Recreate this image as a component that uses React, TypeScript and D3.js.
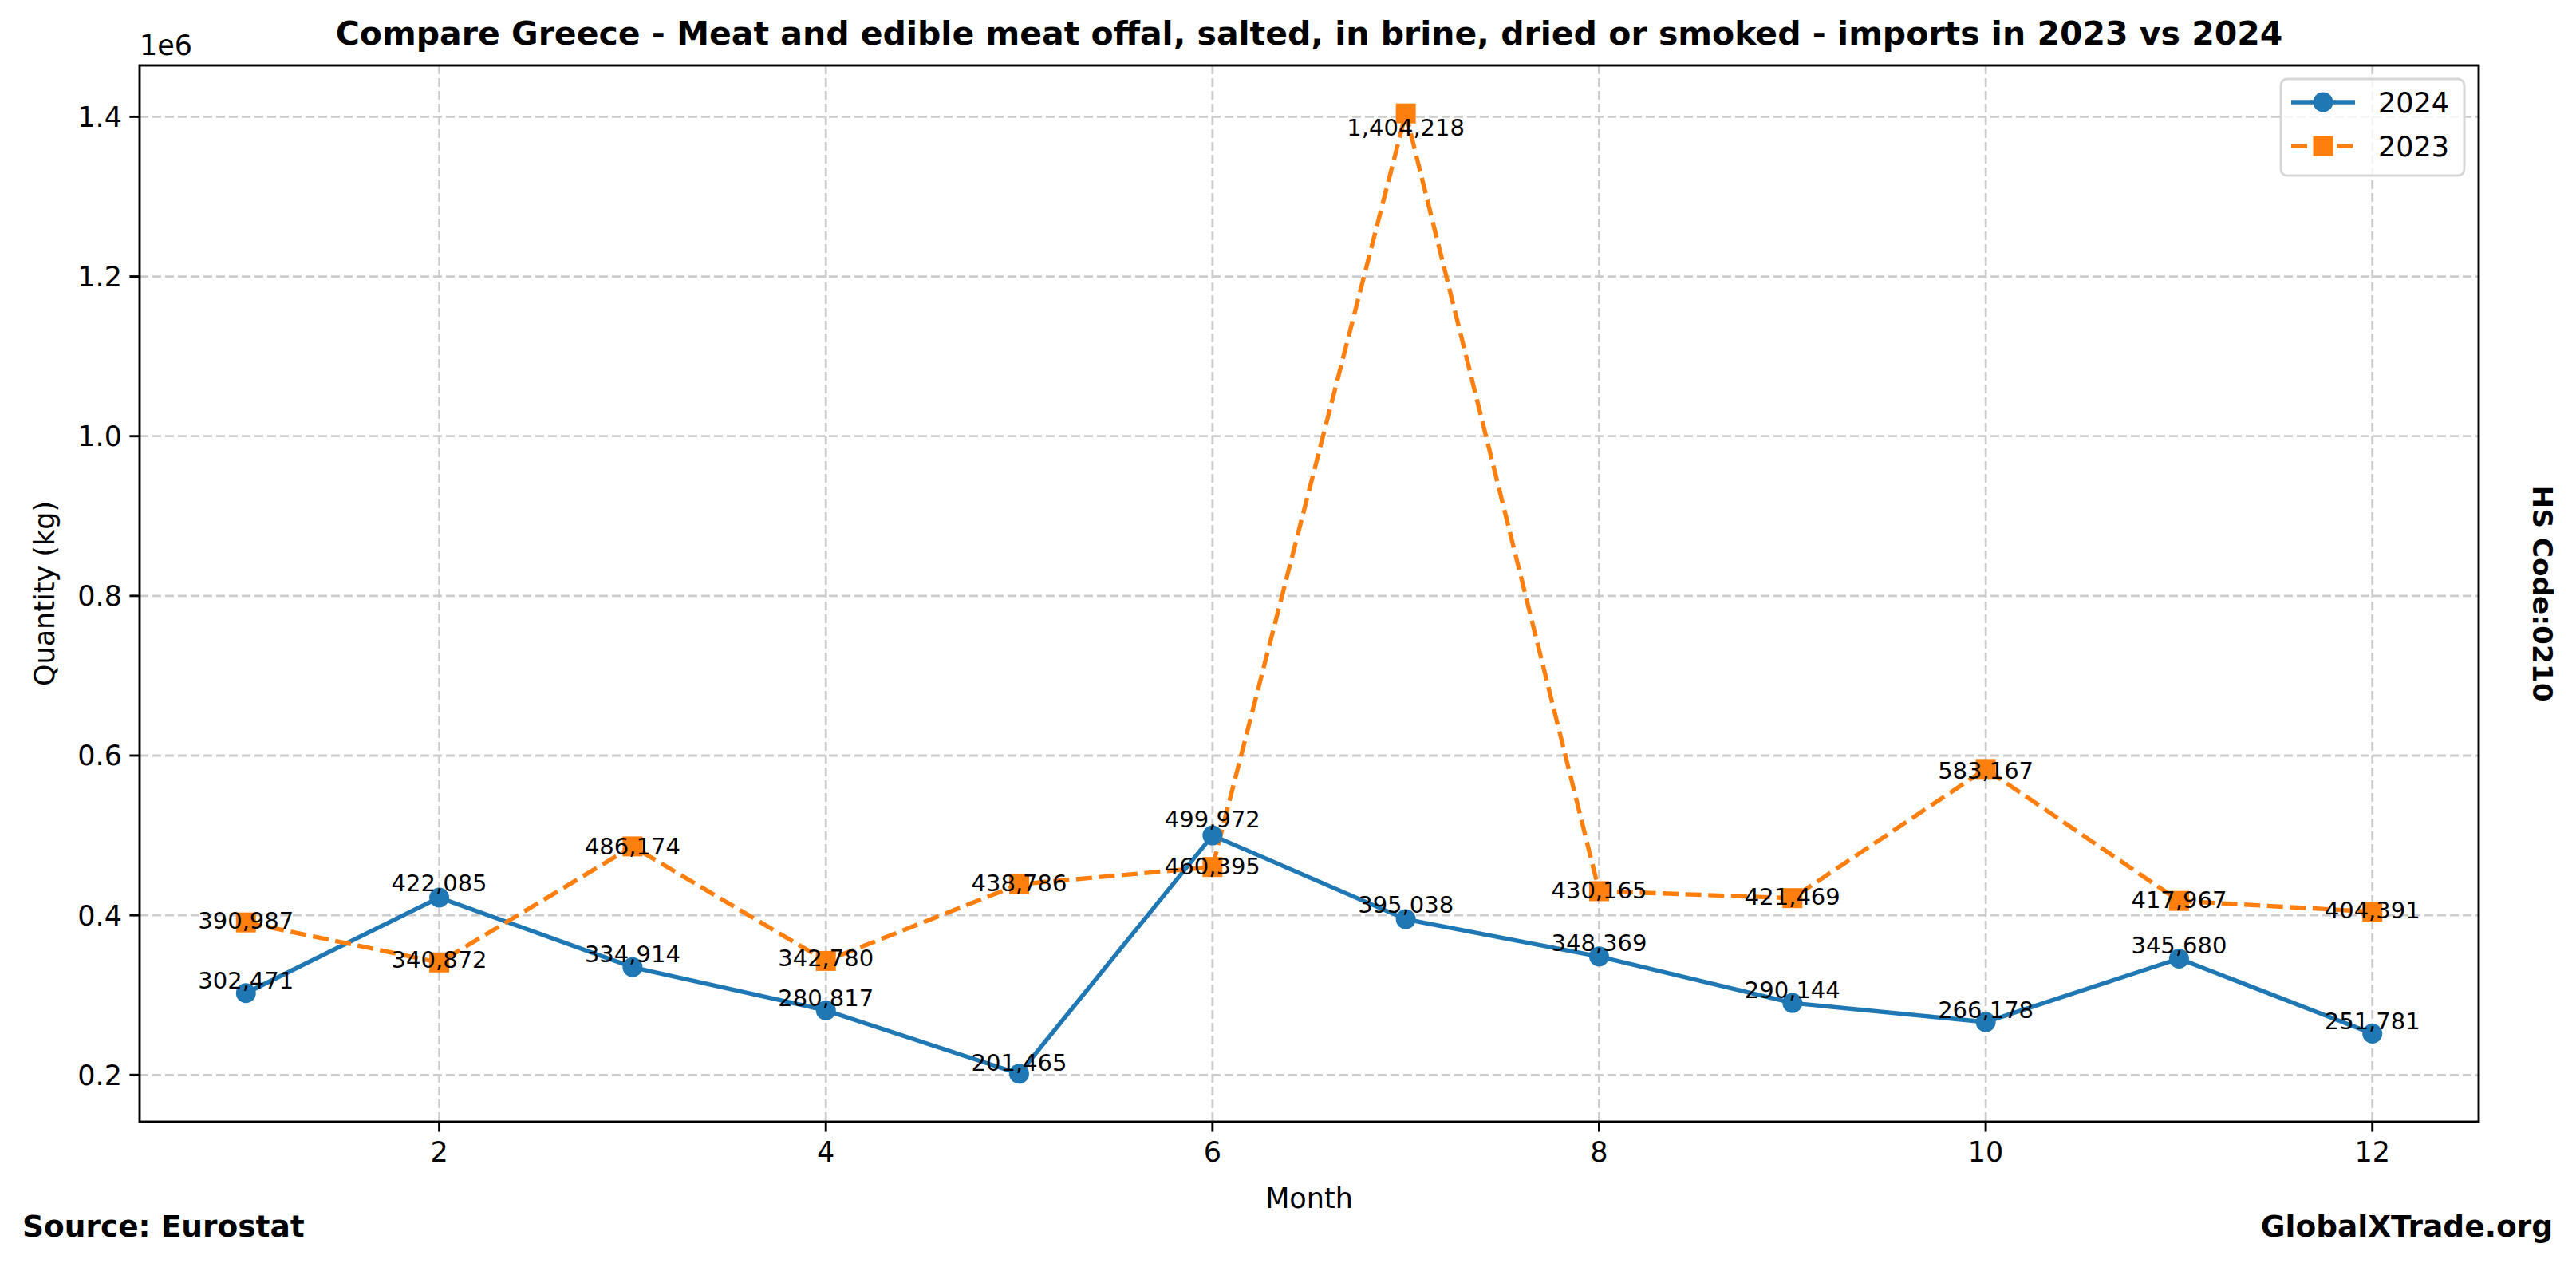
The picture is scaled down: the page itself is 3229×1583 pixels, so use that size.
import React, { useEffect } from "react";
import * as d3 from "d3";

const months = [1, 2, 3, 4, 5, 6, 7, 8, 9, 10, 11, 12];
const values2024 = [302471, 422085, 334914, 280817, 201465, 499972, 395038, 348369, 290144, 266178, 345680, 251781];
const values2023 = [390987, 340872, 486174, 342780, 438786, 460395, 1404218, 430165, 421469, 583167, 417967, 404391];
const xTickValues = [2, 4, 6, 8, 10, 12];
const yTickValues = [200000, 400000, 600000, 800000, 1000000, 1200000, 1400000];
const yTickLabels = ["0.2", "0.4", "0.6", "0.8", "1.0", "1.2", "1.4"];
const seriesNames = ["2024", "2023"];
const titleText = "Compare Greece - Meat and edible meat offal, salted, in brine, dried or smoked - imports in 2023 vs 2024";

const W = 3229;
const H = 1583;
const left = 175, right = 3107, top = 82, bottom = 1406;
const FONT = "DejaVu Sans, sans-serif";
const BLUE = "#1f77b4";
const ORANGE = "#ff7f0e";

export default function App() {
  useEffect(() => {
    document.body.style.margin = "0";
  }, []);

  const allVals = [...values2024, ...values2023];
  const minV = d3.min(allVals)!;
  const maxV = d3.max(allVals)!;
  const padY = (maxV - minV) * 0.05;
  const x = d3.scaleLinear().domain([1 - 0.55, 12 + 0.55]).range([left, right]);
  const y = d3.scaleLinear().domain([minV - padY, maxV + padY]).range([bottom, top]);

  const line = d3
    .line<number>()
    .x((_, i) => x(months[i]))
    .y((d) => y(d));

  const fmt = d3.format(",");
  const lw = 5.4;

  return (
    <svg
      width={W}
      height={H}
      style={{ position: "fixed", left: 0, top: 0, background: "#fff" }}
      fontFamily={FONT}
    >
      <rect x={0} y={0} width={W} height={H} fill="#fff" />
      {/* grid */}
      <g stroke="#cccccc" strokeWidth={2.8} strokeDasharray="11,5">
        {xTickValues.map((t) => (
          <line key={"gx" + t} x1={x(t)} x2={x(t)} y1={top} y2={bottom} />
        ))}
        {yTickValues.map((t) => (
          <line key={"gy" + t} x1={left} x2={right} y1={y(t)} y2={y(t)} />
        ))}
      </g>

      {/* lines */}
      <path d={line(values2024)!} fill="none" stroke={BLUE} strokeWidth={lw} strokeLinejoin="round" />
      <path
        d={line(values2023)!}
        fill="none"
        stroke={ORANGE}
        strokeWidth={lw}
        strokeDasharray="20,8.6"
        strokeLinejoin="round"
      />
      {values2024.map((v, i) => (
        <circle key={"c" + i} cx={x(months[i])} cy={y(v)} r={12.5} fill={BLUE} />
      ))}
      {values2023.map((v, i) => (
        <rect key={"s" + i} x={x(months[i]) - 12.5} y={y(v) - 12.5} width={25} height={25} fill={ORANGE} />
      ))}

      {/* value labels */}
      <g fontSize={29} textAnchor="middle" fill="#000">
        {values2024.map((v, i) => (
          <text key={"l4" + i} x={x(months[i])} y={y(v * 1.02)}>
            {fmt(v)}
          </text>
        ))}
        {values2023.map((v, i) => (
          <text key={"l3" + i} x={x(months[i])} y={y(v * 0.98)}>
            {fmt(v)}
          </text>
        ))}
      </g>

      {/* axes frame */}
      <rect x={left} y={top} width={right - left} height={bottom - top} fill="none" stroke="#000" strokeWidth={2.9} />

      {/* x ticks */}
      <g fontSize={35} textAnchor="middle">
        {xTickValues.map((t) => (
          <g key={"xt" + t}>
            <line x1={x(t)} x2={x(t)} y1={bottom} y2={bottom + 12.6} stroke="#000" strokeWidth={2.9} />
            <text x={x(t)} y={bottom + 50}>
              {t}
            </text>
          </g>
        ))}
      </g>
      {/* y ticks */}
      <g fontSize={35} textAnchor="end">
        {yTickValues.map((t, i) => (
          <g key={"yt" + t}>
            <line x1={left - 12.6} x2={left} y1={y(t)} y2={y(t)} stroke="#000" strokeWidth={2.9} />
            <text x={left - 22} y={y(t) + 12.5}>
              {yTickLabels[i]}
            </text>
          </g>
        ))}
      </g>
      <text x={left} y={top - 13} fontSize={35}>
        1e6
      </text>

      {/* axis labels */}
      <text x={(left + right) / 2} y={1514} fontSize={35} textAnchor="middle">
        Month
      </text>
      <text
        transform={`translate(${56 + 12},${(top + bottom) / 2}) rotate(-90)`}
        fontSize={35}
        textAnchor="middle"
      >
        Quantity (kg)
      </text>

      {/* title */}
      <text x={(left + right) / 2} y={56} fontSize={41} fontWeight="bold" textAnchor="middle">
        {titleText}
      </text>

      {/* right side label */}
      <text
        transform={`translate(${3187 - 12},${(top + bottom) / 2}) rotate(90)`}
        fontSize={34.3}
        fontWeight="bold"
        textAnchor="middle"
      >
        HS Code:0210
      </text>

      {/* footer */}
      <text x={28} y={1550} fontSize={37.5} fontWeight="bold">
        Source: Eurostat
      </text>
      <text x={3200} y={1550} fontSize={37.5} fontWeight="bold" textAnchor="end">
        GlobalXTrade.org
      </text>

      {/* legend */}
      <g>
        <rect x={2859} y={99} width={230} height={121} rx={8} fill="#fff" fillOpacity={0.8} stroke="#d6d6d6" strokeWidth={2.9} />
        <line x1={2872} x2={2952} y1={128} y2={128} stroke={BLUE} strokeWidth={lw} />
        <circle cx={2912} cy={128} r={12.5} fill={BLUE} />
        <text x={2981} y={141} fontSize={35}>
          {seriesNames[0]}
        </text>
        <line x1={2872} x2={2952} y1={183} y2={183} stroke={ORANGE} strokeWidth={lw} strokeDasharray="20,8.6" />
        <rect x={2899.5} y={170.5} width={25} height={25} fill={ORANGE} />
        <text x={2981} y={196} fontSize={35}>
          {seriesNames[1]}
        </text>
      </g>
    </svg>
  );
}
